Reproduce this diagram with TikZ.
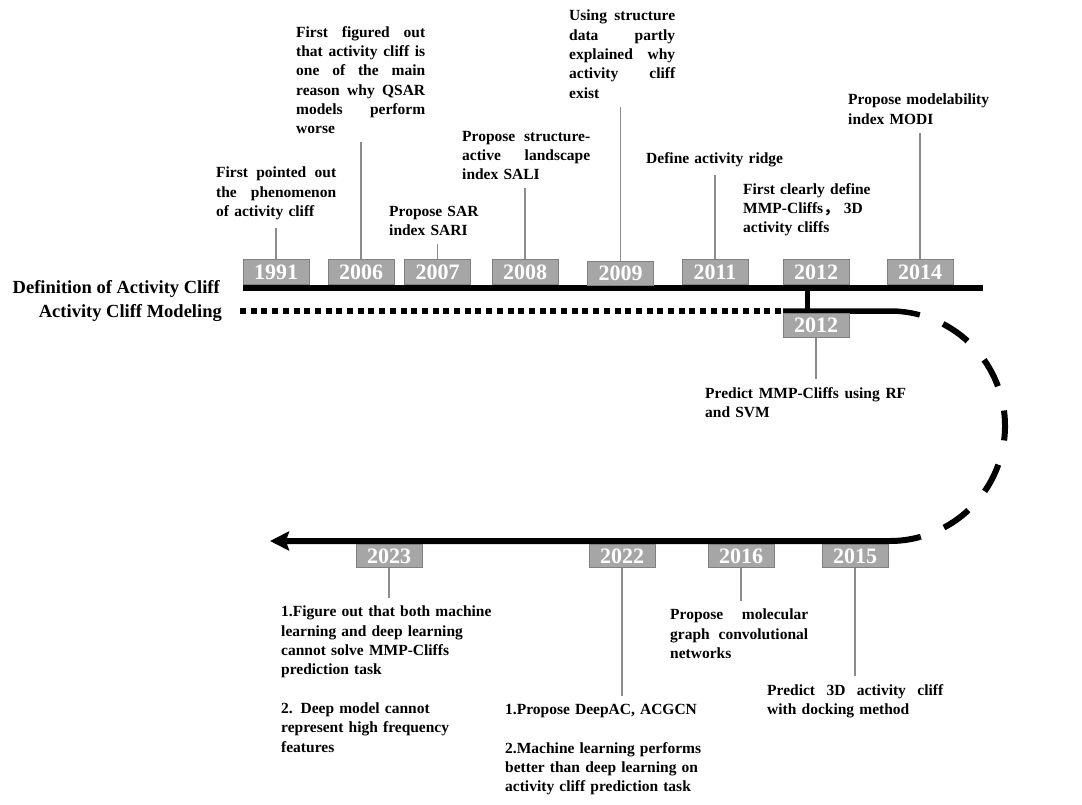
\documentclass[tikz,border=0pt]{standalone}
\usepackage{fontspec}
\setmainfont{Liberation Serif}
\newfontfamily\cjk{Noto Sans CJK SC}
\usetikzlibrary{arrows.meta}
\definecolor{boxgray}{HTML}{A6A6A6}
\definecolor{boxedge}{HTML}{808080}
\definecolor{linegray}{HTML}{8C8C8C}
\newcommand{\jl}[2]{\leavevmode\hbox to #1{\spaceskip=.25em plus 1fil\relax #2}}

\begin{document}
\begin{tikzpicture}[x=1pt, y=-1pt,
  year/.style={draw=boxedge, line width=1pt, fill=boxgray, text=white, inner sep=0pt,
    minimum width=66pt, minimum height=24pt, font=\fontsize{22}{22}\selectfont\bfseries},
  note/.style={anchor=north west, inner sep=0pt, align=left,
    font=\fontsize{15.5}{19.3}\selectfont\bfseries},
  lbl/.style={anchor=base east, inner sep=0pt, font=\fontsize{18.5}{20}\selectfont\bfseries},
  conn/.style={draw=linegray, line width=1.2pt, shorten >=8pt},
  axis/.style={line width=6pt}]
\useasboundingbox (0,0) rectangle (1082,805);

% timelines
\coordinate (defL) at (243,288);
\coordinate (defR) at (983,288);
\coordinate (branch) at (807.5,288);
\coordinate (modL) at (240,311);
\coordinate (modM) at (783,311);
\coordinate (arcC) at (890,426);
\coordinate (tip) at (270,541);
\draw[axis] (defL) -- (defR);
\draw[line width=5pt] (branch) -- (branch |- modM);
\draw[line width=5.5pt, dash pattern=on 6pt off 4.7pt] (modL) -- (modM);
\draw[axis, line width=5.5pt] (modM) -- (modM -| arcC) arc[start angle=-90, end angle=-75, radius=115];
\draw[axis, dash pattern=on 30pt off 25pt, dash phase=30pt] ([shift={(-75:115)}]arcC) arc[start angle=-75, end angle=75, radius=115];
\draw[axis, -{Stealth[length=19pt, width=19pt, inset=3pt]}] ([shift={(75:115)}]arcC) arc[start angle=75, end angle=90, radius=115] -- (tip);

\node[lbl] (defl) at (220,293) {Definition of Activity Cliff};
\node[lbl] (modl) at (222,317) {Activity Cliff Modeling};

% years
\node[year] (y1991) at (276,272) {1991};
\node[year] (y2006) at (361,272) {2006};
\node[year] (y2007) at (437.5,272) {2007};
\node[year] (y2008) at (525,272) {2008};
\node[year] (y2009) at (620.5,273.5) {2009};
\node[year] (y2011) at (715,272) {2011};
\node[year] (y2012) at (816,272) {2012};
\node[year] (y2014) at (920,272) {2014};
\node[year] (y2012b) at (816,325) {2012};
\node[year, minimum height=23pt] (y2023) at (389,556) {2023};
\node[year, minimum height=23pt] (y2022) at (622,556) {2022};
\node[year, minimum height=23pt] (y2016) at (741,556) {2016};
\node[year, minimum height=23pt] (y2015) at (855,556) {2015};

% notes
\node[note, text width=120pt] (t1) at (216,167) {\jl{120pt}{First pointed out}\\ \jl{120pt}{the phenomenon}\\ of activity cliff};
\node[note, text width=129pt] (t2) at (296,26) {\jl{129pt}{First figured out}\\ \jl{129pt}{that activity cliff is}\\ \jl{129pt}{one of the main}\\ \jl{129pt}{reason why QSAR}\\ \jl{129pt}{models perform}\\ worse};
\node[note, text width=90pt] (t3) at (389,206) {Propose SAR\\ index SARI};
\node[note, text width=128pt] (t4) at (462,131) {\jl{128pt}{Propose structure-}\\ \jl{128pt}{active landscape}\\ index SALI};
\node[note, text width=106pt] (t5) at (569,10) {\jl{106pt}{Using structure}\\ \jl{106pt}{data partly}\\ \jl{106pt}{explained why}\\ \jl{106pt}{activity cliff}\\ exist};
\node[note, text width=140pt] (t6) at (646,152) {Define activity ridge};
\node[note, text width=130pt] (t7) at (743,183) {First clearly define\\ MMP-Cliffs{\cjk ，}\ 3D\\ activity cliffs};
\node[note, text width=145pt] (t8) at (848,94) {Propose modelability\\ index MODI};
\node[note, text width=201pt] (t9) at (705,387) {\jl{201pt}{Predict MMP-Cliffs using RF}\\ and SVM};
\node[note, text width=138pt] (t10) at (670,609) {\jl{138pt}{Propose molecular}\\ \jl{138pt}{graph convolutional}\\ networks};
\node[note, text width=176pt] (t11) at (767,684) {\jl{176pt}{Predict 3D activity cliff}\\ with docking method};
\node[note, text width=200pt] (t12) at (505,704) {1.Propose DeepAC, ACGCN\\[19.3pt] 2.Machine learning performs\\ better than deep learning on\\ activity cliff prediction task};
\node[note, text width=215pt] (t13) at (281,606) {1.Figure out that both machine\\ learning and deep learning\\ cannot solve MMP-Cliffs\\ prediction task\\[19.3pt] 2. Deep model cannot\\ represent high frequency\\ features};

% connectors
\draw[conn] (y1991.north) -- (y1991.north |- t1.south);
\draw[conn] (y2006.north) -- (y2006.north |- t2.south);
\draw[conn] (y2007.north) -- (y2007.north |- t3.south);
\draw[conn] (y2008.north) -- (y2008.north |- t4.south);
\draw[conn] (y2009.north) -- (y2009.north |- t5.south);
\draw[conn] (y2011.north) -- (y2011.north |- t6.south);
\draw[conn] (y2014.north) -- (y2014.north |- t8.south);
\draw[conn] (y2012b.south) -- (y2012b.south |- t9.north);
\draw[conn] (y2023.south) -- (y2023.south |- t13.north);
\draw[conn] (y2022.south) -- (y2022.south |- t12.north);
\draw[conn] (y2016.south) -- (y2016.south |- t10.north);
\draw[conn] (y2015.south) -- (y2015.south |- t11.north);
\end{tikzpicture}
\end{document}
